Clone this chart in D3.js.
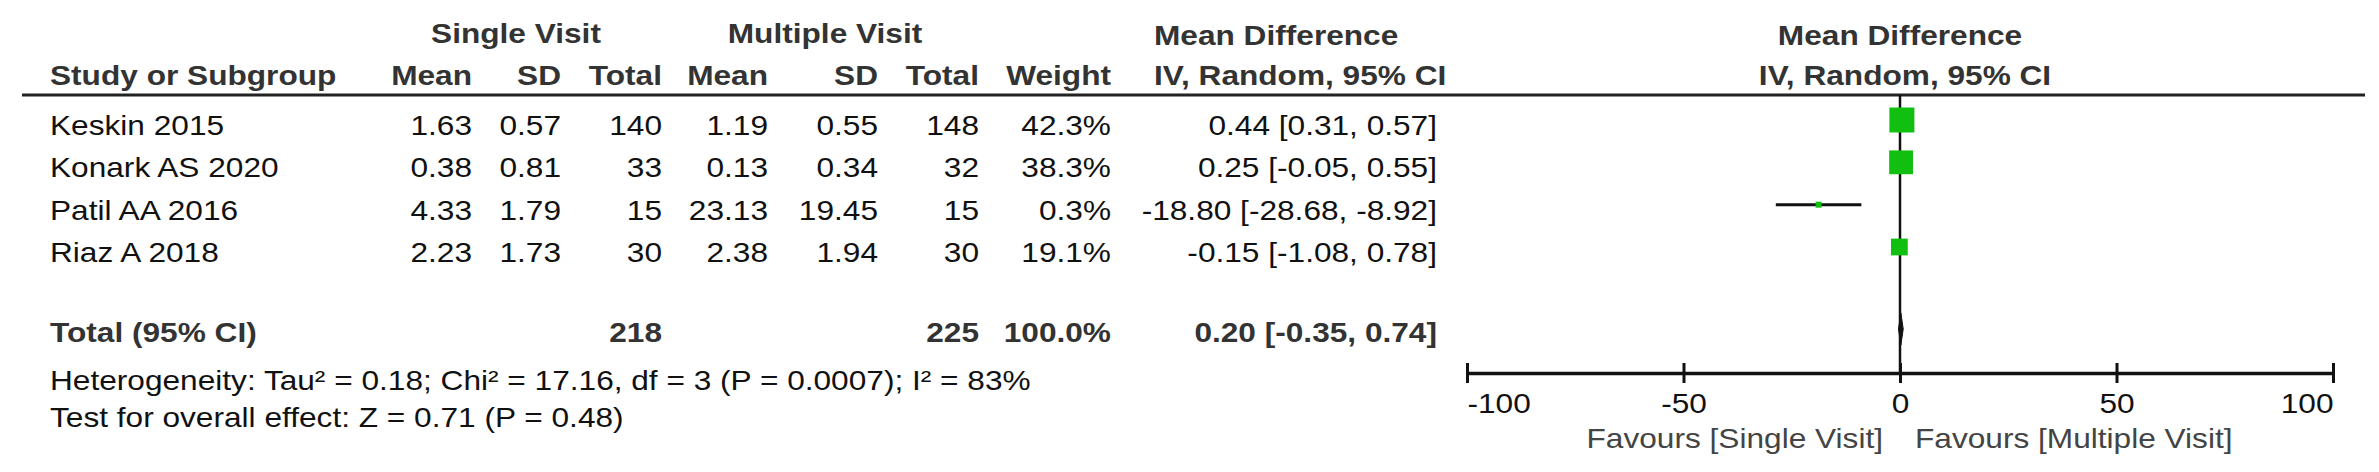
<!DOCTYPE html>
<html>
<head>
<meta charset="utf-8">
<script src="https://cdn.jsdelivr.net/npm/d3@7"></script>
<style>
  html, body { margin: 0; padding: 0; background: #fff; }
  svg { display: block; }
  text { font-family: "Liberation Sans", Arial, sans-serif; font-size: 28px; }
</style>
</head>
<body>
<svg id="chart" width="2379" height="472"></svg>
<script>
// ---------- data ----------
const studies   = ["Keskin 2015", "Konark AS 2020", "Patil AA 2016", "Riaz A 2018"];
const svMean    = [1.63, 0.38, 4.33, 2.23];
const svSD      = [0.57, 0.81, 1.79, 1.73];
const svTotal   = [140, 33, 15, 30];
const mvMean    = [1.19, 0.13, 23.13, 2.38];
const mvSD      = [0.55, 0.34, 19.45, 1.94];
const mvTotal   = [148, 32, 15, 30];
const weights   = [42.3, 38.3, 0.3, 19.1];
const md        = [0.44, 0.25, -18.80, -0.15];
const mdLow     = [0.31, -0.05, -28.68, -1.08];
const mdHigh    = [0.57, 0.55, -8.92, 0.78];
const totalLabel = "Total (95% CI)";
const totalSV   = 218;
const totalMV   = 225;
const totalWeight = 100.0;
const totalMD   = [0.20, -0.35, 0.74];   // estimate, low, high
const heterogeneity = "Heterogeneity: Tau\u00b2 = 0.18; Chi\u00b2 = 17.16, df = 3 (P = 0.0007); I\u00b2 = 83%";
const overallEffect = "Test for overall effect: Z = 0.71 (P = 0.48)";
const axisTicks = [-100, -50, 0, 50, 100];
const favoursLeft  = "Favours [Single Visit]";
const favoursRight = "Favours [Multiple Visit]";
const groupHeaders = ["Single Visit", "Multiple Visit", "Mean Difference", "Mean Difference"];
const colHeaders = ["Study or Subgroup", "Mean", "SD", "Total", "Mean", "SD", "Total", "Weight", "IV, Random, 95% CI", "IV, Random, 95% CI"];

// ---------- layout ----------
const svg = d3.select("#chart");
const SX = 1.13;          // horizontal stretch of the reference text
const headColor = "#333";
const textColor = "#111";
const green = "#10bf10";
const loc = d3.formatLocale({decimal: ".", thousands: ",", grouping: [3], currency: ["", ""], minus: "-"});
const f2 = loc.format(".2f");
const fInt = loc.format("d");

function txt(x, y, s, opts = {}) {
  return svg.append("text")
    .attr("transform", `translate(${x},${y}) scale(${SX},1)`)
    .attr("text-anchor", opts.anchor || "start")
    .attr("font-weight", opts.bold ? "bold" : "normal")
    .attr("fill", opts.fill || textColor)
    .text(s);
}

// column right edges
const colRight = [null, 472, 561, 662, 768, 878, 979, 1111, null];
const studyX = 50;
const ciRight = 1437;
const ciHeadLeft = 1154;

// row baselines
const rowY = d3.scaleLinear().domain([0, studies.length - 1]).range([135, 262]);
const totalY = 342;

// forest x-scale
const x = d3.scaleLinear().domain([-100, 100]).range([1467, 2333]);
const lineY = 95, axisY = 373;

// ---------- headers ----------
txt(516, 43, groupHeaders[0], {anchor: "middle", bold: true, fill: headColor});
txt(825, 43, groupHeaders[1], {anchor: "middle", bold: true, fill: headColor});
txt(ciHeadLeft, 45, groupHeaders[2], {bold: true, fill: headColor});
txt(x(0), 45, groupHeaders[3], {anchor: "middle", bold: true, fill: headColor});

txt(studyX, 85, colHeaders[0], {bold: true, fill: headColor});
for (let c = 1; c <= 7; c++) txt(colRight[c], 85, colHeaders[c], {anchor: "end", bold: true, fill: headColor});
txt(ciHeadLeft, 85, colHeaders[8], {bold: true, fill: headColor});
txt(x(0) + 5, 85, colHeaders[9], {anchor: "middle", bold: true, fill: headColor});

svg.append("line").attr("x1", 22).attr("x2", 2365).attr("y1", lineY).attr("y2", lineY)
  .attr("stroke", "#222").attr("stroke-width", 3);

// ---------- study rows ----------
studies.forEach((s, i) => {
  const y = rowY(i);
  txt(studyX, y, s);
  txt(colRight[1], y, f2(svMean[i]), {anchor: "end"});
  txt(colRight[2], y, f2(svSD[i]), {anchor: "end"});
  txt(colRight[3], y, svTotal[i], {anchor: "end"});
  txt(colRight[4], y, f2(mvMean[i]), {anchor: "end"});
  txt(colRight[5], y, f2(mvSD[i]), {anchor: "end"});
  txt(colRight[6], y, mvTotal[i], {anchor: "end"});
  txt(colRight[7], y, weights[i].toFixed(1) + "%", {anchor: "end"});
  txt(ciRight, y, `${f2(md[i])} [${f2(mdLow[i])}, ${f2(mdHigh[i])}]`, {anchor: "end"});
});

// total row
txt(studyX, totalY, totalLabel, {bold: true, fill: headColor});
txt(colRight[3], totalY, totalSV, {anchor: "end", bold: true, fill: headColor});
txt(colRight[6], totalY, totalMV, {anchor: "end", bold: true, fill: headColor});
txt(colRight[7], totalY, totalWeight.toFixed(1) + "%", {anchor: "end", bold: true, fill: headColor});
txt(ciRight, totalY, `${f2(totalMD[0])} [${f2(totalMD[1])}, ${f2(totalMD[2])}]`, {anchor: "end", bold: true, fill: headColor});

txt(studyX, 390, heterogeneity);
txt(studyX, 427, overallEffect);

// ---------- forest plot ----------
svg.append("line").attr("x1", x(0)).attr("x2", x(0)).attr("y1", lineY).attr("y2", axisY)
  .attr("stroke", "#111").attr("stroke-width", 2.5);

const boxSide = d3.scaleSqrt().domain([0, d3.max(weights)]).range([0, 25]);
const g = svg.append("g");
studies.forEach((s, i) => {
  const cy = rowY(i) - 15;
  g.append("line").attr("x1", x(mdLow[i])).attr("x2", x(mdHigh[i]))
    .attr("y1", cy).attr("y2", cy).attr("stroke", "#111").attr("stroke-width", 3);
  const side = Math.max(boxSide(weights[i]), 6);
  g.append("rect").attr("x", x(md[i]) - side / 2).attr("y", cy - side / 2)
    .attr("width", side).attr("height", side).attr("fill", green);
});

// diamond
const dy = totalY - 13;
const dh = 16;
g.append("path")
  .attr("d", `M${x(totalMD[1])},${dy} L${x(totalMD[0])},${dy - dh} L${x(totalMD[2])},${dy} L${x(totalMD[0])},${dy + dh} Z`)
  .attr("fill", "#111").attr("stroke", "#111").attr("stroke-width", 1);

// axis
const axis = d3.axisBottom(x).tickValues(axisTicks).tickSizeOuter(0).tickSizeInner(10).tickFormat(fInt);
const ax = svg.append("g").attr("transform", `translate(0,${axisY})`).call(axis);
ax.select(".domain").attr("stroke", "#111").attr("stroke-width", 3.5);
ax.selectAll(".tick line").attr("y1", -10).attr("y2", 10).attr("stroke", "#111").attr("stroke-width", 3);
ax.selectAll(".tick text")
  .attr("font-family", '"Liberation Sans", Arial, sans-serif')
  .attr("font-size", 28).attr("fill", "#111")
  .attr("y", 0).attr("dy", 0)
  .attr("transform", `translate(0,40) scale(${SX},1)`)
  .attr("text-anchor", (d, i) => i === 0 ? "start" : (i === axisTicks.length - 1 ? "end" : "middle"));

txt(x(0) - 17, 448, favoursLeft, {anchor: "end", fill: "#444"});
txt(x(0) + 15, 448, favoursRight, {fill: "#444"});
</script>
</body>
</html>
